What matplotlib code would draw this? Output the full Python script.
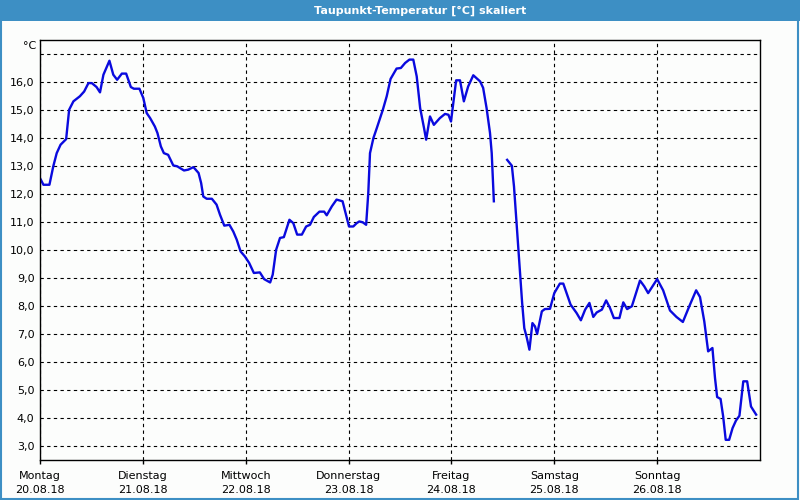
import matplotlib.pyplot as plt
import matplotlib.patches as patches
import numpy as np

# Stunden seit Montag 20.08.18 00:00 und Taupunkt in Grad C
hours = [0.2, 0.8, 2.2, 3.1, 3.9, 4.8, 6.1, 6.8, 7.8, 9.3, 10.3, 11.3, 12.1, 13.2,
         14.0, 14.8, 15.3, 16.2, 17.1, 18.0, 19.1, 20.1, 21.2, 21.9, 23.2, 24.1,
         24.9, 25.7, 26.8, 27.4, 28.2, 28.9, 29.9, 31.1, 32.0, 33.6, 34.6, 35.8,
         37.0, 37.6, 38.1, 38.9, 40.1, 41.2, 42.0, 43.0, 44.2, 45.1, 45.9, 46.8,
         47.8, 48.8, 49.9, 51.3, 52.3, 53.7, 54.3, 55.1, 56.0, 56.9, 58.2, 59.1,
         60.0, 61.1, 62.1, 63.0, 63.9, 65.2, 66.3, 66.9, 68.1, 69.2, 70.6, 71.2,
         72.1, 73.1, 73.9, 74.5, 75.3, 76.1, 76.6, 77.0, 77.8, 78.6, 80.0, 80.9,
         81.8, 83.2, 84.2, 85.2, 86.2, 87.1, 87.9, 88.7, 89.6, 90.1, 91.0, 91.9,
         93.3, 94.5, 95.3, 95.9, 97.1, 98.0, 98.9, 99.9, 101.1, 102.7, 103.4,
         104.2, 105.0, 105.4, 105.9, 107.5,
         109.0, 110.1, 110.6, 111.2, 111.8, 112.5, 113.0, 113.6, 114.2, 114.5,
         114.9, 115.5, 116.0, 117.1, 117.8, 119.0, 120.0, 121.3, 122.1, 123.8,
         125.2, 126.2, 127.2, 128.2, 129.1, 129.9, 131.1, 132.1, 133.0, 133.9,
         135.2, 136.1, 137.0, 138.1, 140.0, 141.0, 141.9, 144.0, 145.4, 147.0,
         148.5, 150.0, 151.5, 153.1, 154.0, 155.0, 155.9, 156.9, 157.5, 158.0,
         158.8, 159.4, 160.0, 160.8, 161.6, 162.4, 163.2, 164.1, 165.0, 165.9,
         167.1]
dewpoint = [12.51, 12.33, 12.33, 12.99, 13.46, 13.76, 13.96, 15.01, 15.31, 15.49,
            15.66, 15.96, 15.96, 15.82, 15.63, 16.26, 16.44, 16.76, 16.26, 16.08,
            16.30, 16.30, 15.82, 15.76, 15.76, 15.43, 14.89, 14.71, 14.41, 14.18,
            13.70, 13.46, 13.40, 13.02, 12.99, 12.84, 12.87, 12.96, 12.75, 12.39,
            11.91, 11.83, 11.83, 11.62, 11.26, 10.87, 10.90, 10.66, 10.37, 9.95,
            9.77, 9.54, 9.18, 9.20, 8.96, 8.84, 9.12, 10.01, 10.43, 10.46, 11.08,
            10.96, 10.55, 10.55, 10.84, 10.90, 11.18, 11.37, 11.37, 11.24, 11.56,
            11.80, 11.74, 11.38, 10.84, 10.84, 10.96, 11.02, 10.99, 10.90, 12.04,
            13.46, 14.00, 14.36, 15.01, 15.49, 16.11, 16.48, 16.50, 16.68, 16.80,
            16.80, 16.20, 15.07, 14.36, 13.94, 14.77, 14.47, 14.71, 14.86, 14.83,
            14.59, 16.06, 16.06, 15.31, 15.84, 16.24, 16.02, 15.79, 15.07, 14.18,
            13.46, 11.74, np.nan,
            13.22, 13.01, 12.27, 10.96, 9.65, 8.11, 7.21, 6.86, 6.44, 6.86,
            7.39, 7.27, 7.00, 7.81, 7.89, 7.90, 8.46, 8.80, 8.80, 8.05,
            7.75, 7.49, 7.87, 8.11, 7.61, 7.77, 7.87, 8.20, 7.93, 7.57,
            7.57, 8.13, 7.89, 7.99, 8.91, 8.70, 8.46, 8.96, 8.56, 7.84,
            7.61, 7.43, 7.99, 8.56, 8.32, 7.45, 6.38, 6.50, 5.43, 4.75,
            4.68, 4.06, 3.22, 3.22, 3.64, 3.91, 4.08, 5.31, 5.31, 4.41,
            4.12]

day_names = ["Montag", "Dienstag", "Mittwoch", "Donnerstag", "Freitag", "Samstag", "Sonntag"]
day_dates = ["20.08.18", "21.08.18", "22.08.18", "23.08.18", "24.08.18", "25.08.18", "26.08.18"]
y_ticks = list(range(3, 18))

bg = "#fcfdfc"
bar_blue = "#3d8fc4"

fig = plt.figure(figsize=(8, 5), dpi=100, facecolor=bg)

# Titelleiste und Fensterrahmen
fig.patches.append(patches.Rectangle((0, 0.958), 1, 0.042, transform=fig.transFigure,
                                     facecolor=bar_blue, edgecolor="none", zorder=0))
fig.patches.append(patches.Rectangle((0.001, 0.003), 0.996, 0.996, transform=fig.transFigure,
                                     facecolor="none", edgecolor=bar_blue, lw=1.5, zorder=0))
fig.text(0.525, 0.979, "Taupunkt-Temperatur [°C] skaliert", color="white",
         fontsize=8, fontweight="bold", ha="center", va="center")

ax = fig.add_axes([0.05, 0.08, 0.90, 0.84])
ax.set_facecolor(bg)
ax.plot(hours, dewpoint, color="#0a0ade", lw=1.7)

ax.set_xlim(0, 168)
ax.set_ylim(2.5, 17.5)

ax.set_xticks(np.arange(0, 168, 24))
ax.set_xticklabels([n + "\n" + d for n, d in zip(day_names, day_dates)], fontsize=8, linespacing=1.45)
ax.set_yticks(y_ticks)
ax.set_yticklabels([("%.1f" % v).replace(".", ",") if v < 17 else "" for v in y_ticks], fontsize=8)

ax.tick_params(axis="x", length=3, width=1, pad=5, colors="black")
ax.tick_params(axis="y", length=0, pad=4)
ax.grid(True, color="black", linestyle=(0, (3, 3)), linewidth=0.8)
ax.set_axisbelow(True)

for s in ax.spines.values():
    s.set_color("black")
    s.set_linewidth(1)

fig.text(30 / 800, 1 - 46 / 500, "°C", fontsize=8, ha="center", va="center")

plt.savefig("out.png", dpi=100, facecolor=bg)
